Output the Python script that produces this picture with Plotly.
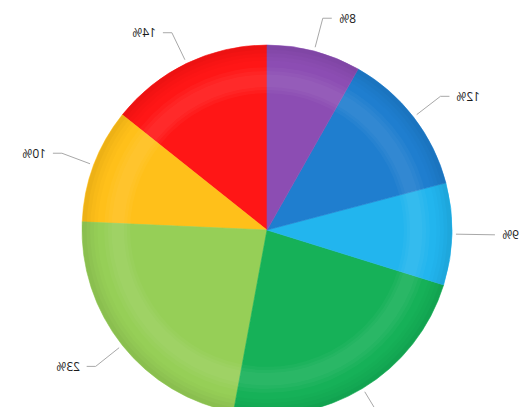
import numpy as np
import plotly.graph_objects as go

# ---- data (clockwise from 12 o'clock as seen) ----
categories = ["Purple", "Blue", "Sky", "Green", "Lime", "Yellow", "Red"]
shares = [8.2, 12.7, 8.9, 23.1, 22.8, 10.0, 14.3]
label_texts = ["8%", "12%", "9%", "23%", "23%", "10%", "14%"]
slice_colors = ["#8c4db3", "#1f7ecf", "#22b5ee", "#16b158", "#96cf57", "#ffc01a", "#ff1616"]

# ---- geometry (the page is mirrored horizontally by CSS at the end) ----
W, H = 528, 440
R = 185
cx, cy = 528 - 267, 230  # centre in un-mirrored space


def dom(r):
    return dict(x=[(cx - r) / W, (cx + r) / W], y=[1 - (cy + r) / H, 1 - (cy - r) / H])


fig = go.Figure()
# un-mirrored space: clockwise order is the reverse of the seen order
fig.add_trace(go.Pie(
    labels=categories[::-1], values=shares[::-1], sort=False, direction="clockwise",
    rotation=0, textinfo="none", hoverinfo="label+percent",
    marker=dict(colors=slice_colors[::-1], line=dict(width=0.6, color=slice_colors[::-1])),
    domain=dom(R), showlegend=False,
))

# subtle bevel shading rings
for h, a in [(0.975, 0.025), (0.955, 0.02), (0.935, 0.015), (0.915, 0.012)]:
    fig.add_trace(go.Pie(values=[1], hole=h, sort=False, textinfo="none", hoverinfo="skip",
                         marker=dict(colors=["rgba(0,0,0,%g)" % a], line=dict(width=0)),
                         domain=dom(R), showlegend=False))
for rr, h, a in [(0.88, 0.84, 0.03), (0.86, 0.88, 0.03), (0.84, 0.92, 0.03)]:
    fig.add_trace(go.Pie(values=[1], hole=h, sort=False, textinfo="none", hoverinfo="skip",
                         marker=dict(colors=["rgba(255,255,255,%g)" % a], line=dict(width=0)),
                         domain=dom(R * rr), showlegend=False))

# ---- leader lines and labels computed from the shares ----
vals = np.array(shares, dtype=float)
frac = vals / vals.sum()
mid = (np.cumsum(frac) - frac / 2) * 2 * np.pi  # angle from 12 o'clock
r1, r2, hlen, gap = R + 4, R + 34, 9, 5
annotations = []
for ang, txt in zip(mid, label_texts):
    sx, sy = -np.sin(ang), -np.cos(ang)
    x1, y1 = cx + r1 * sx, cy + r1 * sy
    x2, y2 = cx + r2 * sx, cy + r2 * sy
    side = 1 if sx >= 0 else -1
    x3 = x2 + side * hlen
    fig.add_trace(go.Scatter(x=[x1, x2, x3], y=[y1, y2, y2], mode="lines",
                             line=dict(color="#a8a8a8", width=1), hoverinfo="skip",
                             showlegend=False))
    annotations.append(dict(x=x3 + side * gap, y=y2, xref="x", yref="y", text=txt,
                            showarrow=False, xanchor="left" if side > 0 else "right",
                            yanchor="middle",
                            font=dict(size=12, color="#1a1a1a", family="Open Sans, Arial")))

fig.update_layout(
    width=W, height=H, margin=dict(l=0, r=0, t=0, b=0),
    paper_bgcolor="white", plot_bgcolor="rgba(0,0,0,0)",
    xaxis=dict(range=[0, W], visible=False, fixedrange=True),
    yaxis=dict(range=[H, 0], visible=False, fixedrange=True),
    annotations=annotations, showlegend=False,
)

post = """
var gd = document.getElementById('{plot_id}');
document.documentElement.style.margin='0';
document.body.style.margin='0';
document.documentElement.style.overflow='hidden';
document.body.style.overflow='hidden';
gd.parentElement.style.height='407px';
gd.parentElement.style.overflow='hidden';
gd.style.transform='scaleX(-1)';
"""
fig.write_html("out.html", post_script=post, config={"displayModeBar": False})
